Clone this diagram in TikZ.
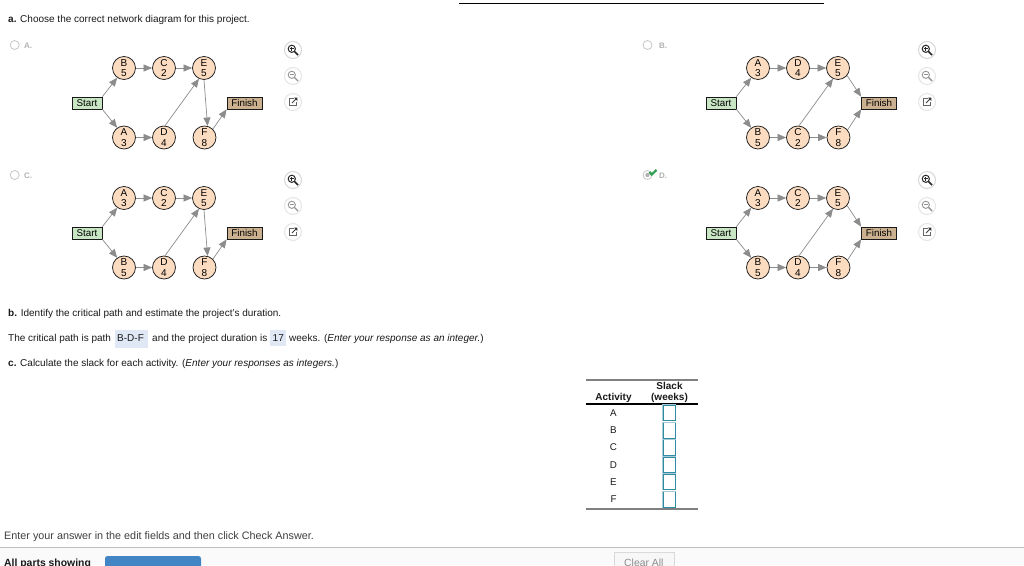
\documentclass[tikz,border=0pt]{standalone}
\usepackage{fontspec}
\setmainfont{Liberation Sans}
\usetikzlibrary{arrows.meta}
\definecolor{peach}{HTML}{FBDCC0}
\definecolor{startg}{HTML}{C8E6C4}
\definecolor{finb}{HTML}{CBB18F}
\definecolor{hl}{HTML}{DFE8F4}
\definecolor{teal1}{HTML}{2F8CA3}
\definecolor{teal2}{HTML}{A9CBD6}
\definecolor{txt}{HTML}{1A1A1A}
\definecolor{chk}{HTML}{2E9E4F}
\tikzset{
 x=1pt,y=-1pt,
 act/.style={circle,draw=black!90,line width=.75pt,fill=peach,minimum size=23pt,inner sep=0pt,align=center,font=\fontsize{10}{10.5}\selectfont},
 startbox/.style={rectangle,draw=black!90,line width=.75pt,fill=startg,minimum width=30pt,minimum height=12pt,inner sep=0pt,font=\fontsize{9.8}{10}\selectfont},
 finbox/.style={rectangle,draw=black!90,line width=.75pt,fill=finb,minimum height=12pt,inner sep=0pt,font=\fontsize{9.8}{10}\selectfont},
 link/.style={draw=black!45,line width=.7pt,-{Triangle[length=8.5pt,width=7pt,fill=black!45]}},
 para/.style={anchor=base west,inner sep=0pt,font=\fontsize{10}{11}\selectfont,text=txt},
 radio/.style={circle,draw=black!22,line width=.8pt,fill=white,minimum size=9pt,inner sep=0pt},
 optlab/.style={anchor=base west,inner sep=0pt,font=\bfseries\fontsize{8}{9}\selectfont,text=black!30},
 ibtn/.style={circle,fill=white,draw=black!10,line width=1pt,minimum size=17pt,inner sep=0pt},
 hdr/.style={inner sep=0pt,font=\bfseries\fontsize{10}{11}\selectfont,align=center,text=txt},
 rowlab/.style={inner sep=0pt,font=\fontsize{9.8}{11}\selectfont,text=txt},
 ansbox/.style={rectangle,draw=teal1,line width=1pt,fill=white,minimum width=12.5pt,minimum height=15.5pt,inner sep=0pt},
}
\newcommand{\iconcol}[3]{%
 \begin{scope}[shift={(#2,#3)}]
  \node[ibtn,draw=black!16] (#1i) at (0,0) {};
  \draw[black!85,line width=1pt] (-1.2,-1.2) circle (3.6);
  \draw[black!85,line width=1.7pt] (1.5,1.5) -- (5,5);
  \draw[black!85,line width=.7pt] (-3,-1.2) -- (.6,-1.2) (-1.2,-3) -- (-1.2,.6);
  \node[ibtn] (#1o) at (0,26) {};
  \draw[black!42,line width=.9pt] (-1.2,24.8) circle (3.6);
  \draw[black!42,line width=1.4pt] (1.5,27.5) -- (5,31);
  \draw[black!42,line width=.7pt] (-3,24.8) -- (.6,24.8);
  \node[ibtn] (#1e) at (0,52) {};
  \draw[black!60,line width=.8pt] (.5,48.5) -- (-3.5,48.5) -- (-3.5,55.5) -- (3.5,55.5) -- (3.5,51.5);
  \draw[black!75,line width=.9pt] (-1,53) -- (3,49);
  \fill[black!80] (1,47.6) -- (4.4,47.6) -- (4.4,51) -- cycle;
 \end{scope}}
\newcommand{\netnodes}[9]{%
 \begin{scope}[shift={(#2,#3)},name prefix=#1]
  \node[startbox] (s) at (87,103) {Start};
  \node[act] (t1) at (124,68) {#4};
  \node[act] (t2) at (164,68) {#5};
  \node[act] (t3) at (204,68) {#6};
  \node[act] (b1) at (124,137.5) {#7};
  \node[act] (b2) at (164,137.5) {#8};
  \node[act] (b3) at (204.5,137.5) {#9};
 \end{scope}}
\newcommand{\commonlinks}[1]{%
 \draw[link] (#1s.north east) -- (#1t1.235);
 \draw[link] (#1s.south east) -- (#1b1.125);
 \draw[link] (#1t1) -- (#1t2);
 \draw[link] (#1t2) -- (#1t3);
 \draw[link] (#1b1) -- (#1b2);
 \draw[link] (#1b2.85) -- (#1t3.245);}
\newcommand{\leftlinks}[1]{%
 \draw[link] (#1t3.south) -- (#1b3.75);
 \draw[link] (#1b3.45) -- (#1f.south west);}
\newcommand{\rightlinks}[1]{%
 \draw[link] (#1b2) -- (#1b3);
 \draw[link] (#1t3.-40) -- (#1f.north west);
 \draw[link] (#1b3.40) -- (#1f.south west);}
\begin{document}
\begin{tikzpicture}
\useasboundingbox (0,0) rectangle (1024,565);
\fill[white] (0,0) rectangle (1024,565);
\coordinate (rtl) at (459,3.5); \coordinate (rtr) at (824,3.5);
\draw[black,line width=.8pt] (rtl) -- (rtr);
\node[para] (qa) at (8,22) {\textbf{a.} Choose the correct network diagram for this project.};
\node[radio] (ra) at (14.7,45) {}; \node[optlab] (la) at (24,48) {A.};
\node[radio] (rb) at (647.5,45) {}; \node[optlab] (lb) at (659,48) {B.};
\node[radio] (rc) at (14.7,175) {}; \node[optlab] (lc) at (24,178) {C.};
\node[radio] (rd) at (647.5,175) {}; \node[optlab] (ld) at (659,178) {D.};
\fill[black!30] (rd) circle (2.2);
\draw[chk,line width=2.2pt] (649.5,172) -- (651.7,174.5) -- (656.5,170);
% A
\netnodes{A}{0}{0}{B\\5}{C\\2}{E\\5}{A\\3}{D\\4}{F\\8}
\node[finbox,minimum width=35pt] (Af) at (244.5,103) {Finish};
\commonlinks{A}\leftlinks{A}
% C
\netnodes{C}{0}{130}{A\\3}{C\\2}{E\\5}{B\\5}{D\\4}{F\\8}
\node[finbox,minimum width=35pt] (Cf) at (244.5,233) {Finish};
\commonlinks{C}\leftlinks{C}
% B
\netnodes{B}{634}{0}{A\\3}{D\\4}{E\\5}{B\\5}{C\\2}{F\\8}
\node[finbox,minimum width=35pt] (Bf) at (879,103) {Finish};
\commonlinks{B}\rightlinks{B}
% D
\netnodes{D}{634}{130}{A\\3}{C\\2}{E\\5}{B\\5}{D\\4}{F\\8}
\node[finbox,minimum width=35pt] (Df) at (879,233) {Finish};
\commonlinks{D}\rightlinks{D}
% icons
\iconcol{ia}{293}{50}
\iconcol{ib}{927}{50}
\iconcol{ic}{293}{180}
\iconcol{id}{927}{180}
% part b, c
\node[para] (qb) at (8,316.5) {\textbf{b.} Identify the critical path and estimate the project's duration.};
\fill[hl] (115,330) rectangle (148,348);
\fill[hl] (270,330) rectangle (286,346);
\node[para] (p1) at (8,341.5) {The critical path is path};
\node[para] (p2) at (117,341.5) {B-D-F};
\node[para] (p3) at (152,341.5) {and the project duration is};
\node[para] (p4) at (272.5,341.5) {17};
\node[para] (p5) at (289,341.5) {weeks. (\textit{Enter your response as an integer.})};
\node[para] (qc) at (8,366) {\textbf{c.} Calculate the slack for each activity. (\textit{Enter your responses as integers.})};
% table
\coordinate (t1l) at (586,380); \coordinate (t1r) at (698,380);
\coordinate (t2l) at (586,404); \coordinate (t2r) at (698,404);
\coordinate (t3l) at (586,509); \coordinate (t3r) at (698,509);
\draw[black!50,line width=1.2pt] (t1l) -- (t1r);
\draw[black,line width=1.2pt] (t2l) -- (t2r);
\draw[black!50,line width=1.2pt] (t3l) -- (t3r);
\node[hdr] (h1) at (613.5,398) {Activity};
\node[hdr] (h2) at (669.5,392) {Slack\\(weeks)};
\foreach \n/\y in {A/413,B/430.5,C/447.5,D/465,E/482,F/499.5}{
  \node[rowlab] (r\n) at (613.5,\y) {\n};
  \node[ansbox] (b\n) at (669.3,\y) {};
  \draw[teal2,line width=1pt] (b\n.south west) -- (b\n.north west) -- (b\n.north east);
}
% footer
\node[para,font=\fontsize{10.8}{12}\selectfont,text=black!75] (foot) at (4,539) {Enter your answer in the edit fields and then click Check Answer.};
\fill[black!2] (0,547) rectangle (1024,565);
\coordinate (fl) at (0,547.5); \coordinate (fr) at (1024,547.5);
\draw[black!25,line width=.8pt] (fl) -- (fr);
\node[para,font=\bfseries\fontsize{10.4}{12}\selectfont] (parts) at (4,566) {All parts showing};
\fill[rounded corners=2.5pt,fill={rgb,255:red,66;green,133;blue,196}] (105,556) rectangle (201,570);
\draw[black!15,fill=black!3,line width=.7pt] (614,552) rectangle (674,570);
\node[para,font=\fontsize{10.4}{12}\selectfont,text=black!45] (clr) at (624,566) {Clear All};
\end{tikzpicture}
\end{document}
